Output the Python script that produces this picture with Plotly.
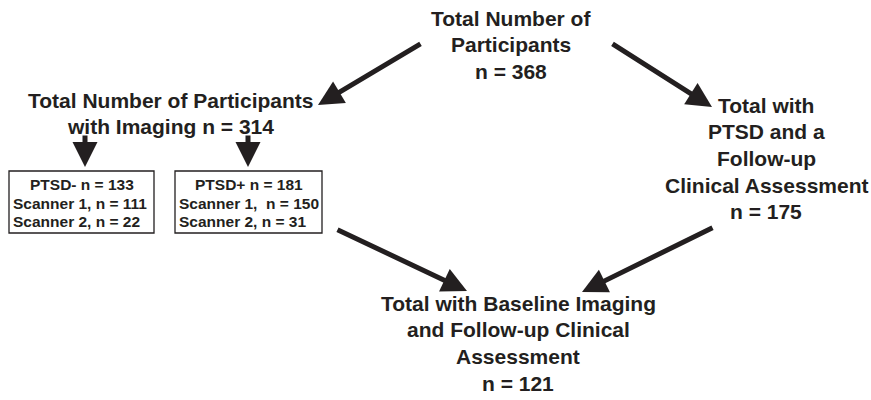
import plotly.graph_objects as go

# ---- data (node labels and counts) ----
node_titles = [
    ["Total Number of", "Participants"],
    ["Total Number of Participants", "with Imaging"],
    ["Total with", "PTSD and a", "Follow-up", "Clinical Assessment"],
    ["Total with Baseline Imaging", "and Follow-up Clinical", "Assessment"],
]
node_counts = [368, 314, 175, 121]
node_count_inline = [False, True, False, False]

group_labels = ["PTSD-", "PTSD+"]
group_counts = [133, 181]
scanner1_counts = [111, 150]
scanner2_counts = [22, 31]
scanner1_sep = [" ", "  "]

# ---- layout (pixel positions) ----
W, H = 871, 400
node_pos = [(511, 18), (170, 100), (766, 105), (518, 303)]  # x centre, first line y
LINE = 26.7
box_rects = [(9, 171, 154, 233), (175, 171, 322, 233)]
box_line_y = [184, 203, 221]
arrows = [  # (tail_x, tail_y, tip_x, tip_y)
    (422, 43, 318, 105),
    (611, 43, 712, 107),
    (85, 134, 85, 167),
    (248, 134, 248, 167),
    (336, 229, 467, 291),
    (714, 227, 582, 292),
]

FONT = "Liberation Sans, Arial, Helvetica, sans-serif"
INK = "#231f20"
fig = go.Figure()
fig.add_trace(go.Scatter(x=[0, W], y=[0, H], mode="markers",
                         marker=dict(opacity=0), hoverinfo="skip", showlegend=False))

annotations = []
for (title, cnt, inline, (x, y)) in zip(node_titles, node_counts, node_count_inline, node_pos):
    lines = list(title)
    if inline:
        lines[-1] = f"{lines[-1]} n = {cnt}"
    else:
        lines.append(f"n = {cnt}")
    for k, ln in enumerate(lines):
        annotations.append(dict(x=x, y=y + k * LINE, xref="x", yref="y", text=f"<b>{ln}</b>",
                                showarrow=False, font=dict(family=FONT, size=21, color=INK),
                                xanchor="center", yanchor="middle"))

for i, (x0, y0, x1, y1) in enumerate(box_rects):
    fig.add_shape(type="rect", x0=x0, y0=y0, x1=x1, y1=y1, xref="x", yref="y",
                  line=dict(color=INK, width=1.3), fillcolor="white", layer="below")
    cx = (x0 + x1) / 2
    texts = [f"{group_labels[i]} n = {group_counts[i]}",
             f"Scanner 1,{scanner1_sep[i]}n = {scanner1_counts[i]}",
             f"Scanner 2, n = {scanner2_counts[i]}"]
    for k, t in enumerate(texts):
        if k == 0:
            annotations.append(dict(x=cx, y=box_line_y[k], xref="x", yref="y", text=f"<b>{t}</b>",
                                    showarrow=False, font=dict(family=FONT, size=15.5, color=INK),
                                    xanchor="center", yanchor="middle"))
        else:
            annotations.append(dict(x=x0 + 2, y=box_line_y[k], xref="x", yref="y", text=f"<b>{t}</b>",
                                    showarrow=False, font=dict(family=FONT, size=15.5, color=INK),
                                    xanchor="left", yanchor="middle"))

for (tx, ty, hx, hy) in arrows:
    annotations.append(dict(x=hx, y=hy, ax=tx, ay=ty, xref="x", yref="y",
                            axref="x", ayref="y", text="", showarrow=True,
                            arrowhead=2, arrowsize=1.0, arrowwidth=5,
                            arrowcolor=INK, standoff=0, startstandoff=0))

fig.update_layout(
    width=W, height=H, margin=dict(l=0, r=0, t=0, b=0),
    paper_bgcolor="white", plot_bgcolor="white",
    xaxis=dict(range=[0, W], visible=False, fixedrange=True),
    yaxis=dict(range=[H, 0], visible=False, fixedrange=True),
    annotations=annotations, showlegend=False,
)
fig.write_html("out.html", config={"displayModeBar": False},
               post_script="document.body.style.margin='0';document.body.style.overflow='hidden';")
